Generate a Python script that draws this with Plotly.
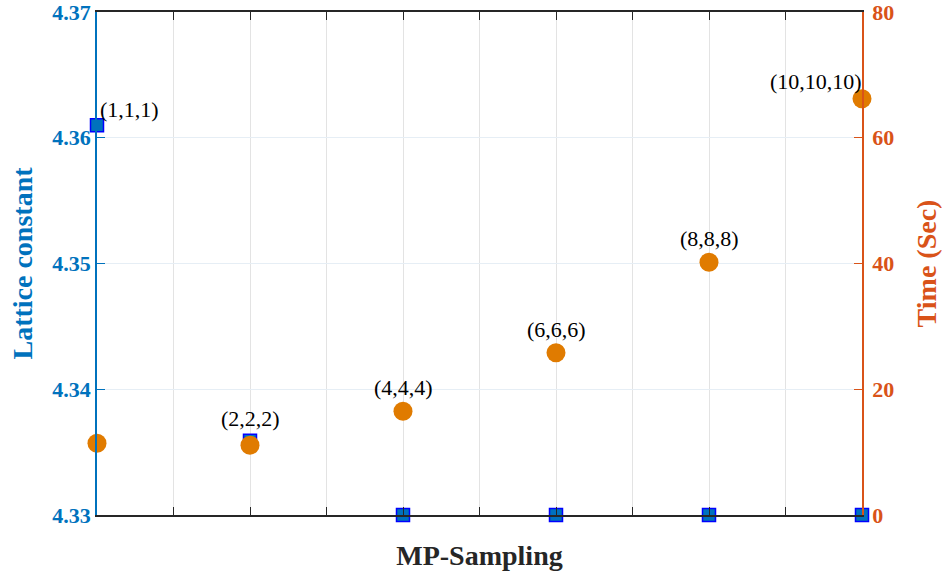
import plotly.graph_objects as go

# k-point sampling grids and measured quantities
grids = ["(1,1,1)", "(2,2,2)", "(4,4,4)", "(6,6,6)", "(8,8,8)", "(10,10,10)"]
xpos = [1, 2, 3, 4, 5, 6]
lattice = [4.361, 4.3359, 4.33, 4.33, 4.33, 4.33]
time_sec = [11.4, 11.1, 16.5, 25.8, 40.2, 66.2]

BLUE = "#0072BD"
ORANGE = "#D95319"
DOT = "#E07B00"
FONT = "Liberation Serif, Times New Roman, serif"

fig = go.Figure()

fig.add_trace(go.Scatter(
    x=xpos, y=lattice, mode="markers", yaxis="y", cliponaxis=False,
    marker=dict(symbol="square", size=13, color=BLUE, line=dict(color="#0000FF", width=1.5)),
    showlegend=False,
))
fig.add_trace(go.Scatter(
    x=xpos, y=time_sec, mode="markers", yaxis="y2", cliponaxis=False,
    marker=dict(symbol="circle", size=19, color=DOT, line=dict(width=0)),
    showlegend=False,
))

# grid labels: first two tagged on lattice series, rest on time series
ann = []
ann.append(dict(x=xpos[0], y=lattice[0], yref="y", text=grids[0], xanchor="left", yanchor="bottom",
                xshift=1, yshift=1, showarrow=False))
ann.append(dict(x=xpos[1], y=lattice[1], yref="y", text=grids[1], xanchor="center", yanchor="bottom",
                yshift=8, showarrow=False))
for i in range(2, 5):
    ann.append(dict(x=xpos[i], y=time_sec[i], yref="y2", text=grids[i], xanchor="center", yanchor="bottom",
                    yshift=9, showarrow=False))
ann.append(dict(x=xpos[5], y=time_sec[5], yref="y2", text=grids[5], xanchor="right", yanchor="bottom",
                xshift=2, yshift=3, showarrow=False))
for a in ann:
    a["xref"] = "x"
    a["font"] = dict(family=FONT, size=22, color="#000000")

fig.update_layout(
    width=942, height=579,
    margin=dict(l=97, r=80, t=12, b=64),
    plot_bgcolor="white", paper_bgcolor="white",
    font=dict(family=FONT),
    annotations=ann,
    xaxis=dict(
        range=[1, 6], dtick=0.5, tick0=1, showticklabels=False,
        ticks="inside", ticklen=8, tickcolor="#262626",
        showline=True, linecolor="#262626", linewidth=1.5, mirror="ticks",
        showgrid=True, gridcolor="#E3E3E3", gridwidth=1, zeroline=False,
        automargin=False,
        title=dict(text="<b>MP-Sampling</b>", font=dict(family=FONT, size=28, color="#262626"), standoff=30),
    ),
    yaxis=dict(
        range=[4.33, 4.37], dtick=0.01, tickformat=".2f",
        ticks="inside", ticklen=8, tickcolor=BLUE,
        showline=True, linecolor=BLUE, linewidth=1.5,
        showgrid=True, gridcolor="#E6EEF5", gridwidth=1, zeroline=False,
        tickfont=dict(family=FONT, size=22, color=BLUE),
        tickprefix="<b>", ticksuffix="</b>",
        ticklabeloverflow="allow",
        automargin=False,
        title=dict(text="<b>Lattice constant</b>", font=dict(family=FONT, size=28, color=BLUE), standoff=12),
    ),
    yaxis2=dict(
        range=[0, 80], dtick=20, overlaying="y", side="right",
        ticks="inside", ticklen=8, tickcolor=ORANGE,
        showline=True, linecolor=ORANGE, linewidth=1.5,
        showgrid=False, zeroline=False,
        tickfont=dict(family=FONT, size=22, color=ORANGE),
        tickprefix="<b>", ticksuffix="</b>",
        ticklabeloverflow="allow",
        ticklabelstandoff=4,
        automargin=False,
        title=dict(text="<b>Time (Sec)</b>", font=dict(family=FONT, size=28, color=ORANGE), standoff=26),
    ),
)

fig.write_html("out.html")
